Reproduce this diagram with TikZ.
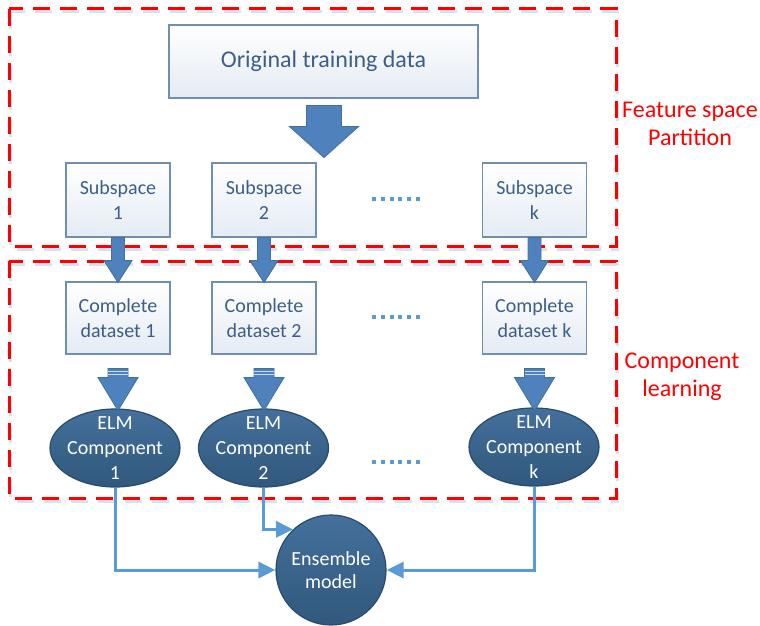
\documentclass[tikz,border=0pt]{standalone}
\usepackage{fontspec}
\setmainfont{Carlito}
\usepackage{xcolor}
\usepackage{tikz}
\usetikzlibrary{arrows.meta,shapes.geometric}

\definecolor{boxline}{RGB}{112,143,174}
\definecolor{boxtext}{RGB}{60,94,136}
\definecolor{boxbot}{RGB}{228,235,243}
\definecolor{blockblue}{RGB}{79,129,189}
\definecolor{blockedge}{RGB}{65,113,156}
\definecolor{elmtop}{RGB}{68,112,156}
\definecolor{elmbot}{RGB}{49,88,124}
\definecolor{elmedge}{RGB}{40,75,110}
\definecolor{linkblue}{RGB}{91,155,213}
\definecolor{shadowblue}{RGB}{214,225,237}

\tikzset{
  databox/.style={draw=boxline,line width=0.6pt,top color=white,bottom color=boxbot,
    text=boxtext,align=center,inner sep=2pt,font=\fontsize{10}{12.5}\selectfont},
  elm/.style={ellipse,draw=elmedge,line width=0.6pt,top color=elmtop,bottom color=elmbot,
    minimum width=65pt,minimum height=39pt,inner sep=0pt},
  elmlbl/.style={text=white,align=center,font=\fontsize{10}{12.5}\selectfont},
  ensemble/.style={circle,draw=elmedge,line width=0.6pt,top color=elmtop,bottom color=elmbot,
    minimum size=55pt,inner sep=0pt,text=white,align=center,font=\fontsize{10}{11.5}\selectfont},
  blockarrow/.style={fill=blockblue,draw=blockedge,line width=0.4pt,line join=miter},
  redbox/.style={draw=red,line width=1.5pt,dash pattern=on 8.5pt off 5pt},
  redshadow/.style={draw=shadowblue,line width=1.5pt,dash pattern=on 8.5pt off 5pt},
  link/.style={draw=linkblue,line width=1.5pt},
  partlbl/.style={text=red,align=center,font=\fontsize{12}{14.2}\selectfont}
}

\begin{document}
\begin{tikzpicture}[x=0.5pt,y=-0.5pt,>={Triangle[length=8.5pt,width=8pt]}]
\useasboundingbox (0,0) rectangle (760,626);

% the two stages
\draw[redshadow] (10.5,12) rectangle (617.5,249);
\draw[redshadow] (10.5,264) rectangle (617.5,501);
\draw[redbox] (9,9) rectangle (616,246);
\draw[redbox] (9,261) rectangle (616,498);
\node[partlbl] (fsp) at (690,124) {Feature space\\Partition};
\node[partlbl] (cl) at (682,377) {Component\\learning};

% boxes
\node[databox,minimum width=154.5pt,minimum height=36.5pt,
  font=\fontsize{12}{14}\selectfont] (orig) at (323.5,61.5) {Original training data};
\node[databox,minimum width=52pt,minimum height=37pt] (sub1) at (118,200) {Subspace\\1};
\node[databox,minimum width=52pt,minimum height=37pt] (sub2) at (264,200) {Subspace\\2};
\node[databox,minimum width=52pt,minimum height=37pt] (subk) at (534.5,200) {Subspace\\k};
\node[databox,minimum width=52pt,minimum height=36pt] (comp1) at (118,318) {Complete\\dataset 1};
\node[databox,minimum width=52pt,minimum height=36pt] (comp2) at (264,318) {Complete\\dataset 2};
\node[databox,minimum width=52pt,minimum height=36pt] (compk) at (534.5,318) {Complete\\dataset k};

% ELM components and ensemble
\node[elm,label={[elmlbl]center:{ELM\\Component\\1}}] (elm1) at (115,448) {};
\node[elm,label={[elmlbl]center:{ELM\\Component\\2}}] (elm2) at (263.5,448) {};
\node[elm,label={[elmlbl]center:{ELM\\Component\\k}}] (elmk) at (534,447) {};
\node[ensemble] (ens) at (331,570) {Ensemble\\model};

% block arrows
\filldraw[blockarrow] (orig.south) ++(-17,7) -- ++(0,21) -- ++(-17,0) -- ++(34.5,31)
  -- ++(34.5,-31) -- ++(-17,0) -- ++(0,-21) -- cycle;
\foreach \i in {1,2,k} {
  \filldraw[blockarrow] (sub\i.south) ++(-6.5,0) -- ++(0,23) -- ++(-7.5,0) -- ++(14,22)
    -- ++(14,-22) -- ++(-7.5,0) -- ++(0,-23) -- cycle;
  \filldraw[blockarrow] (comp\i.south) ++(-10,14) -- ++(0,9) -- ++(-10,0) -- ++(20,33)
    -- ++(20,-33) -- ++(-10,0) -- ++(0,-9) -- cycle;
  \draw[white!70!blockblue,line width=0.5pt] (comp\i.south) ++(-10,17) -- ++(20,0)
    ++(-20,3) -- ++(20,0);
}

% dots
\foreach \y in {199,317,462}
  \foreach \x in {0,...,5}
    \fill[linkblue] ({372+8.8*\x},{\y-2}) rectangle ++(4,4);

% to the ensemble
\draw[link,->] (elm1.south) |- (ens.west);
\draw[link,->] (elm2.south) |- (ens.133);
\draw[link,->] (elmk.south) |- (ens.east);
\end{tikzpicture}
\end{document}
